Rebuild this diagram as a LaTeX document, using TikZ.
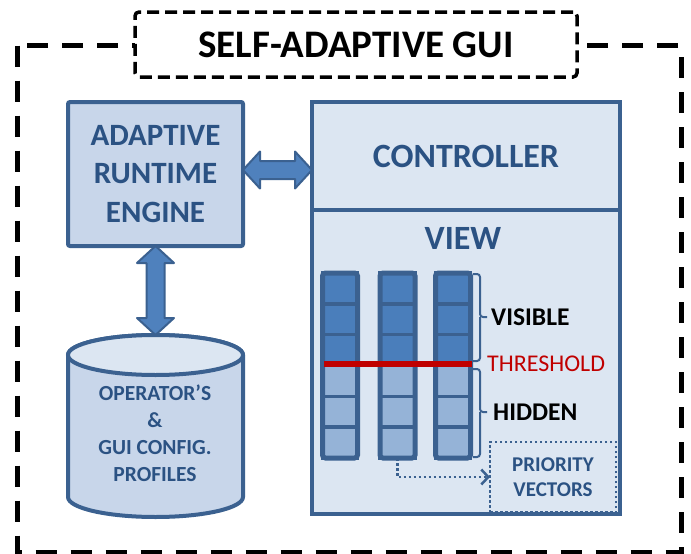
\documentclass[tikz,border=0pt]{standalone}
\usepackage{fontspec}
\setmainfont{Carlito}
\usetikzlibrary{calc,arrows.meta}
\definecolor{bord}{HTML}{3B6190}
\definecolor{arefill}{HTML}{C8D6EA}
\definecolor{ctlfill}{HTML}{DCE6F2}
\definecolor{txtblue}{HTML}{2B5283}
\definecolor{cdark}{HTML}{4A7EBB}
\definecolor{clight}{HTML}{95B3D7}
\definecolor{arrfill}{HTML}{4F81BD}
\definecolor{thrcol}{HTML}{C00000}
\begin{document}
\begin{tikzpicture}[x=1pt,y=-1pt,
  outerframe/.style={draw=black,line width=5pt,dash pattern=on 21pt off 14pt},
  titlebox/.style={draw=black,fill=white,line width=3.5pt,dash pattern=on 12pt off 6pt,rounded corners=4pt,
     minimum width=442pt,minimum height=65pt,inner sep=0pt,font=\bfseries\fontsize{39}{44}\selectfont},
  arebox/.style={draw=bord,fill=arefill,line width=4pt,rounded corners=2pt,outer sep=0pt,
     minimum width=175pt,minimum height=144pt,inner sep=0pt,align=center,text=txtblue,
     font=\bfseries\fontsize{31}{38.5}\selectfont},
  ctlbox/.style={draw=bord,fill=ctlfill,line width=4pt,outer sep=0pt,
     minimum width=308pt,inner sep=0pt,text=txtblue,font=\bfseries\fontsize{34}{40}\selectfont},
  blockarrow/.style={fill=arrfill,draw=bord,line width=2pt,line join=round},
  dbbody/.style={fill=arefill,draw=bord,line width=4pt},
  dbtop/.style={fill=ctlfill,draw=bord,line width=4pt},
  dblabel/.style={align=center,text=txtblue,inner sep=0pt,font=\bfseries\fontsize{21.5}{27}\selectfont},
  cellbox/.style={draw=bord,line width=3.5pt},
  colbox/.style={draw=bord,line width=5pt,rounded corners=3pt,minimum width=35pt,minimum height=185pt,inner sep=0pt,outer sep=0pt},
  thrline/.style={draw=thrcol,line width=6pt},
  bracestyle/.style={draw=bord,line width=2pt,rounded corners=3pt},
  blk/.style={inner sep=0pt,anchor=west,text=black,font=\bfseries\fontsize{25.5}{30}\selectfont},
  thrtxt/.style={inner sep=0pt,anchor=west,text=thrcol,font=\fontsize{24}{28}\selectfont},
  prio/.style={draw=bord,line width=2.5pt,dash pattern=on 2.5pt off 2.5pt,minimum width=126pt,minimum height=70pt,
     inner sep=0pt,outer sep=0pt,align=center,text=txtblue,font=\bfseries\fontsize{21}{25}\selectfont},
  dotarrow/.style={draw=bord,line width=2.5pt,dash pattern=on 2.5pt off 2.5pt,
     -{Straight Barb[length=7pt,width=15pt,line width=2.5pt]}}
]
\useasboundingbox (0,0) rectangle (691,554);
\fill[white] (0,0) rectangle (691,554);

% outer frame and title
\draw[outerframe] (17,45.5) rectangle (681,552);
\node[titlebox] (title) at (356,44.5) {SELF-ADAPTIVE GUI};

% adaptive runtime engine
\node[arebox] (are) at (155.5,174) {ADAPTIVE\\RUNTIME\\ENGINE};

% controller and view
\node[ctlbox,minimum height=108pt] (ctrl) at (466,156) {CONTROLLER};
\node[ctlbox,minimum height=304pt,anchor=north] (view) at (ctrl.south) {};
\node[inner sep=0pt,text=txtblue,font=\bfseries\fontsize{34}{40}\selectfont] (viewlbl) at (463,238) {VIEW};

% database cylinder
\node[minimum width=175pt,minimum height=182pt,inner sep=0pt,outer sep=0pt] (db) at (155.5,426) {};
\path[dbbody] ($(db.north west)+(0,20)$) -- ($(db.south west)+(0,-20)$)
   arc[start angle=180,end angle=0,x radius=87.5,y radius=20]
   -- ($(db.north east)+(0,20)$)
   arc[start angle=0,end angle=-180,x radius=87.5,y radius=20] -- cycle;
\path[dbtop] ($(db.north)+(0,20)$) ellipse[x radius=87.5,y radius=20];
\node[dblabel] (dblbl) at (155,433.5) {OPERATOR’S\\\&\\GUI CONFIG.\\PROFILES};

% block arrows
\coordinate (h1) at ($(are.east)+(0,-4)$);
\coordinate (h2) at (ctrl.west |- h1);
\path[blockarrow] (h1) -- ++(17,-18.5) -- ++(0,9.5) -- ($(h2)+(-17,-9)$) -- ++(0,-9.5) -- (h2)
   -- ++(-17,18.5) -- ++(0,-9.5) -- ($(h1)+(17,9)$) -- ++(0,9.5) -- cycle;
\coordinate (v1) at (are.south);
\coordinate (v2) at (v1 |- db.north);
\path[blockarrow] (v1) -- ++(18.5,17) -- ++(-9.5,0) -- ($(v2)+(9,-17)$) -- ++(9.5,0) -- (v2)
   -- ++(-18.5,-17) -- ++(9.5,0) -- ($(v1)+(-9,17)$) -- ++(-9.5,0) -- cycle;

% priority vector columns
\foreach \cx [count=\i] in {340,397.5,453}{
  \foreach \k/\f in {0/cdark,1/cdark,2/cdark,3/clight,4/clight,5/clight}{
    \draw[cellbox,fill=\f] (\cx-17.5,273+\k*30.833) rectangle ++(35,30.833);
  }
  \node[colbox] (col\i) at (\cx,365.5) {};
}

% threshold
\draw[thrline] (324,364) -- (472,364);

% braces
\draw[bracestyle] (473,274) -| (480,317) -- (487,317);
\draw[bracestyle] (480,317) |- (473,361);
\draw[bracestyle] (473,369) -| (480,412) -- (487,412);
\draw[bracestyle] (480,412) |- (473,457);

% labels
\node[blk] (vis) at (491,317) {VISIBLE};
\node[thrtxt] (thlbl) at (487,364) {THRESHOLD};
\node[blk] (hid) at (493,412) {HIDDEN};

% priority vectors
\node[prio] (pv) at (553,477) {PRIORITY\\VECTORS};
\draw[dotarrow] (col2.south) |- (pv.west);
\end{tikzpicture}
\end{document}
